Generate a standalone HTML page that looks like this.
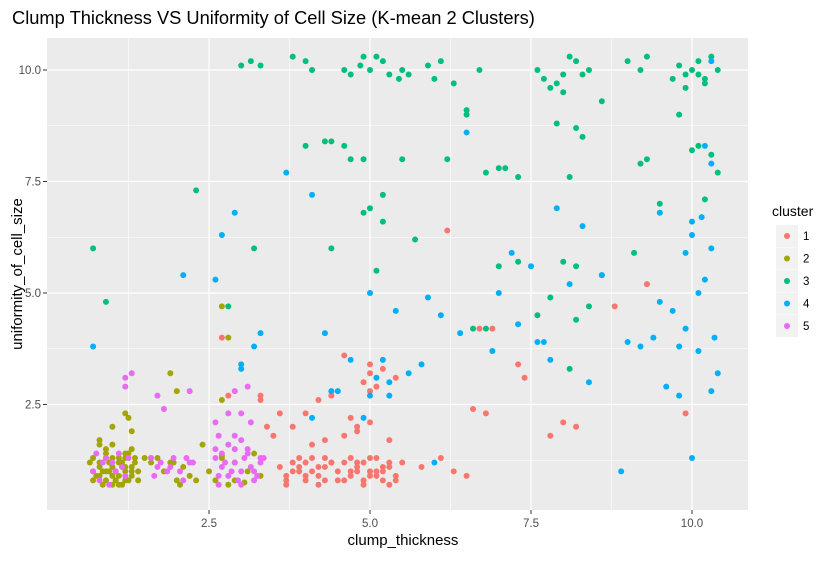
<!DOCTYPE html>
<html><head><meta charset="utf-8"><style>
body{margin:0;background:#fff;font-family:"Liberation Sans",sans-serif}
svg text{font-family:"Liberation Sans",sans-serif}
</style></head><body>
<svg id="chart" width="830" height="556">
<rect x="0" y="0" width="830" height="556" fill="#fff"/>
<text x="12" y="24" font-size="18.3" fill="#000">Clump Thickness VS Uniformity of Cell Size (K-mean 2 Clusters)</text>
<rect x="47" y="38" width="701" height="472" fill="#EBEBEB"/>
<g id="grid"></g><g id="pts"></g><g id="axes"></g>
<text x="403" y="545" font-size="15" text-anchor="middle" fill="#000">clump_thickness</text>
<text transform="translate(22,274) rotate(-90)" font-size="15" text-anchor="middle" fill="#000">uniformity_of_cell_size</text>
<g id="legend">
<text x="772" y="216" font-size="14" fill="#000">cluster</text>
</g>
</svg>
<script>
const xTicks=[2.5,5.0,7.5,10.0];
const yTicks=[2.5,5.0,7.5,10.0];
const xTickLabels=["2.5","5.0","7.5","10.0"];
const yTickLabels=["2.5","5.0","7.5","10.0"];
const clusters=["1","2","3","4","5"];
const colors=["#F8766D","#A3A500","#00BF7D","#00B0F6","#E76BF3"];
const c1x=[3.7,3.8,3.9,4.0,4.1,4.2,4.3,4.4,4.5,3.6,3.7,3.9,4.0,4.2,4.3,4.5,3.8,4.1,4.4,3.7,4.0,4.3,3.9,4.2,4.6,4.7,4.8,4.9,5.0,5.1,5.2,5.3,5.4,4.7,4.9,5.1,5.3,4.8,5.0,5.2,5.4,4.6,4.9,5.2,4.7,5.0,5.3,4.8,5.1,5.5,6.1,6.3,5.8,6.5,6.8,3.5,3.8,4.1,4.3,4.6,4.8,5.0,5.3,3.3,3.6,4.2,4.4,4.9,5.1,5.4,4.0,3.4,4.7,5.0,5.0,5.2,4.6,5.0,6.2,6.7,6.6,7.4,7.8,8.0,8.2,8.8,9.3,9.9,7.3,6.9,2.8,3.3,2.7,4.8];
const c1y=[0.8,1.2,1.0,0.9,1.3,1.1,0.8,1.2,1.0,1.1,0.9,1.3,1.2,0.9,1.1,0.8,1.0,1.0,1.2,0.7,0.8,1.3,1.1,0.7,1.2,0.9,1.1,0.8,1.3,1.0,0.8,1.2,0.9,1.0,0.7,1.3,1.1,1.2,0.9,1.0,0.8,0.8,1.2,1.1,1.3,1.0,0.7,1.0,0.9,1.2,1.3,1.0,1.1,0.9,2.3,1.8,2.0,1.6,1.7,1.8,2.0,2.1,1.7,2.6,2.3,2.6,2.7,3.0,2.9,3.1,2.3,2.0,2.2,2.8,3.4,3.3,3.6,3.2,6.4,4.2,2.4,3.1,1.8,2.1,2.0,4.7,5.2,2.3,3.4,4.2,2.7,2.7,4.0,1.9];
const c2x=[0.7,0.8,0.9,1.0,1.1,1.2,1.3,1.4,0.7,0.85,0.95,1.05,1.15,1.25,1.35,0.75,0.9,1.0,1.1,1.2,1.3,0.8,0.95,1.05,1.15,1.3,0.7,0.9,1.1,1.25,1.4,0.8,1.0,1.2,0.65,0.85,1.0,1.15,1.35,0.9,1.1,1.2,0.9,1.0,1.3,1.2,0.8,1.5,1.8,1.9,2.0,2.1,2.2,1.7,1.95,2.3,2.05,1.6,2.7,2.9,3.1,3.2,2.8,3.3,2.6,2.9,3.05,2.7,1.0,1.25,1.3,0.8,1.2,2.0,1.9,2.7,2.8,2.7,2.5,2.4,1.6];
const c2y=[1.0,1.2,0.8,1.1,0.9,1.3,1.0,0.8,1.3,0.7,1.2,1.0,1.1,0.8,1.2,0.9,1.4,0.7,1.3,1.0,0.9,1.1,1.0,0.8,1.2,1.1,0.8,1.3,0.7,1.4,1.0,0.9,1.3,1.1,1.2,1.0,0.9,0.7,1.3,1.0,1.2,0.8,1.5,1.6,1.5,1.4,1.6,1.3,1.0,1.2,0.8,1.1,0.9,1.3,1.2,0.8,0.7,1.3,1.3,0.8,1.0,1.4,0.7,0.9,0.8,1.2,0.75,1.35,2.0,2.2,1.9,1.7,2.3,2.8,3.2,2.6,4.0,4.7,1.0,1.6,1.2];
const c3x=[3.0,3.15,3.3,3.8,4.0,4.1,4.6,4.7,4.9,5.0,5.2,5.3,5.45,5.6,4.85,5.1,5.5,5.9,6.0,6.1,6.3,6.5,6.7,7.6,7.7,7.9,8.0,8.1,8.2,8.3,8.0,7.8,8.4,8.6,9.0,9.2,9.3,9.7,9.8,9.9,10.0,10.1,10.2,10.3,10.4,9.9,10.1,10.2,9.8,4.0,4.3,4.4,4.6,4.7,4.9,5.2,5.5,6.2,6.5,6.8,7.0,7.1,7.3,7.9,8.2,8.3,8.1,9.2,9.3,10.0,10.1,10.3,10.4,10.2,0.7,0.9,2.3,2.8,3.2,4.4,4.9,5.0,5.2,5.1,5.7,6.6,6.8,7.6,7.8,8.0,8.2,8.4,8.2,9.1,9.5,8.1,7.3,7.0];
const c3y=[10.1,10.2,10.1,10.3,10.2,10.0,10.0,9.9,10.3,10.0,10.2,9.9,9.8,9.9,10.1,10.3,10.0,10.1,9.8,10.2,9.7,9.1,10.0,10.0,9.8,9.7,9.9,10.3,10.2,9.9,9.5,9.6,10.0,9.3,10.2,10.0,10.3,9.8,10.1,9.9,10.0,10.2,9.7,10.3,10.0,9.6,9.9,9.8,9.0,8.3,8.4,8.4,8.3,8.0,8.0,7.2,8.0,8.0,9.0,7.7,7.8,7.8,7.6,8.8,8.7,8.5,7.6,7.9,8.0,8.2,8.3,8.1,7.7,7.1,6.0,4.8,7.3,4.7,6.0,6.0,6.8,6.9,6.6,5.5,6.2,4.2,4.2,4.5,4.9,5.7,5.6,4.7,4.4,5.9,7.0,3.3,5.7,5.6];
const c4x=[0.7,2.1,2.6,2.7,2.9,3.7,4.1,3.0,3.3,4.3,4.4,4.7,4.9,5.0,5.1,5.2,5.3,5.4,5.6,5.8,5.9,6.0,6.1,6.5,6.9,7.0,7.2,7.3,7.5,7.7,7.8,7.9,8.1,8.3,8.4,8.6,8.9,9.0,9.2,9.4,9.5,9.6,9.7,9.8,9.9,10.0,10.1,10.2,10.3,10.35,10.1,9.8,10.0,10.3,9.9,10.2,10.4,10.3,10.0,4.1,4.5,5.0,5.3,3.0,3.2,8.6,7.6,10.3,6.4,9.5,10.15];
const c4y=[3.8,5.4,5.3,6.3,6.8,7.7,7.2,3.4,4.1,4.1,2.8,3.5,2.2,5.0,3.1,3.5,2.7,4.6,3.2,3.4,4.9,1.2,4.5,8.6,3.7,5.0,5.9,4.3,5.6,3.9,3.5,6.9,5.2,6.5,3.0,5.4,1.0,3.9,3.8,4.0,6.8,2.9,4.6,3.8,5.9,6.3,5.0,8.3,7.9,4.0,3.7,2.7,1.3,2.8,4.2,5.3,3.2,6.0,6.6,2.2,2.8,2.7,3.0,3.3,3.8,5.4,3.9,10.2,4.1,4.8,6.7];
const c5x=[0.75,0.9,1.05,1.2,0.8,1.0,1.15,0.95,1.25,0.7,1.1,0.85,1.6,1.75,1.9,2.05,2.15,2.25,1.65,1.95,2.1,1.7,1.85,2.2,2.6,2.7,2.8,2.9,3.0,3.1,3.2,3.3,2.65,2.75,2.85,2.95,3.05,3.15,3.25,2.6,2.8,3.0,3.2,2.7,2.9,3.1,2.65,3.0,3.3,1.2,1.2,1.3,1.7,1.8,2.2,2.8,3.0,2.9,3.1,3.15,2.6,3.35,2.65,2.9];
const c5y=[1.4,1.3,1.0,0.9,0.8,1.2,1.1,0.7,1.3,1.0,1.4,1.2,1.3,1.2,1.1,1.0,1.3,1.2,0.9,1.3,0.8,1.1,1.0,1.2,1.3,1.1,0.9,1.2,1.0,1.4,0.8,1.3,0.7,1.2,1.0,0.8,1.3,1.1,0.9,1.5,1.6,1.7,1.0,1.4,1.8,1.5,0.9,0.7,1.2,3.1,2.9,3.2,2.7,2.4,2.8,2.3,2.3,2.8,2.9,2.1,2.1,1.3,1.8,1.5];
const series=[[c1x,c1y],[c2x,c2y],[c3x,c3y],[c4x,c4y],[c5x,c5y]];
const NS="http://www.w3.org/2000/svg";
function X(v){return 48+64.4*v;}
function Y(v){return 70+(10-v)*44.6;}
const grid=document.getElementById('grid'),axes=document.getElementById('axes'),pts=document.getElementById('pts');
function ln(g,x1,y1,x2,y2,sw,c){const l=document.createElementNS(NS,'line');l.setAttribute('x1',x1);l.setAttribute('y1',y1);l.setAttribute('x2',x2);l.setAttribute('y2',y2);l.setAttribute('stroke',c);l.setAttribute('stroke-width',sw);g.appendChild(l);return l;}
[1.25,3.75,6.25,8.75].forEach(v=>{
 const a=ln(grid,X(v),38,X(v),510,0.6,'#fff');
 
 
 const b=ln(grid,47,Y(v),748,Y(v),0.6,'#fff');
 
 
});
xTicks.forEach((v,i)=>{
 const g=ln(grid,X(v),38,X(v),510,1.2,'#fff');
 
 
 const t=ln(axes,X(v),510,X(v),514,1,'#333');
 
 
 const tx=document.createElementNS(NS,'text');tx.setAttribute('x',X(v));tx.setAttribute('y',527);tx.setAttribute('font-size','11.5');tx.setAttribute('text-anchor','middle');tx.setAttribute('fill','#4D4D4D');tx.textContent=xTickLabels[i];
 
 
 axes.appendChild(tx);
});
yTicks.forEach((v,i)=>{
 const g=ln(grid,47,Y(v),748,Y(v),1.2,'#fff');
 
 
 const t=ln(axes,43,Y(v),47,Y(v),1,'#333');
 
 
 const tx=document.createElementNS(NS,'text');tx.setAttribute('x',41);tx.setAttribute('y',Y(v)+4);tx.setAttribute('font-size','11.5');tx.setAttribute('text-anchor','end');tx.setAttribute('fill','#4D4D4D');tx.textContent=yTickLabels[i];
 
 
 axes.appendChild(tx);
});
series.forEach((s,k)=>{
 s[0].forEach((xv,i)=>{
  const c=document.createElementNS(NS,'circle');c.setAttribute('cx',X(xv));c.setAttribute('cy',Y(s[1][i]));c.setAttribute('r',3);c.setAttribute('fill',colors[k]);
  
  
  pts.appendChild(c);
 });
});
const lg=document.getElementById('legend');
clusters.forEach((c,i)=>{
 const y=236+i*22.5;
 const r=document.createElementNS(NS,'rect');r.setAttribute('x',776);r.setAttribute('y',y-11);r.setAttribute('width',22);r.setAttribute('height',22);r.setAttribute('fill','#F2F2F2');
 
 
 lg.appendChild(r);
 const d=document.createElementNS(NS,'circle');d.setAttribute('cx',787);d.setAttribute('cy',y);d.setAttribute('r',3);d.setAttribute('fill',colors[i]);
 
 
 lg.appendChild(d);
 const t=document.createElementNS(NS,'text');t.setAttribute('x',803);t.setAttribute('y',y+4);t.setAttribute('font-size','11.5');t.setAttribute('fill','#000');t.textContent=c;
 
 
 lg.appendChild(t);
});
</script>
</body></html>
